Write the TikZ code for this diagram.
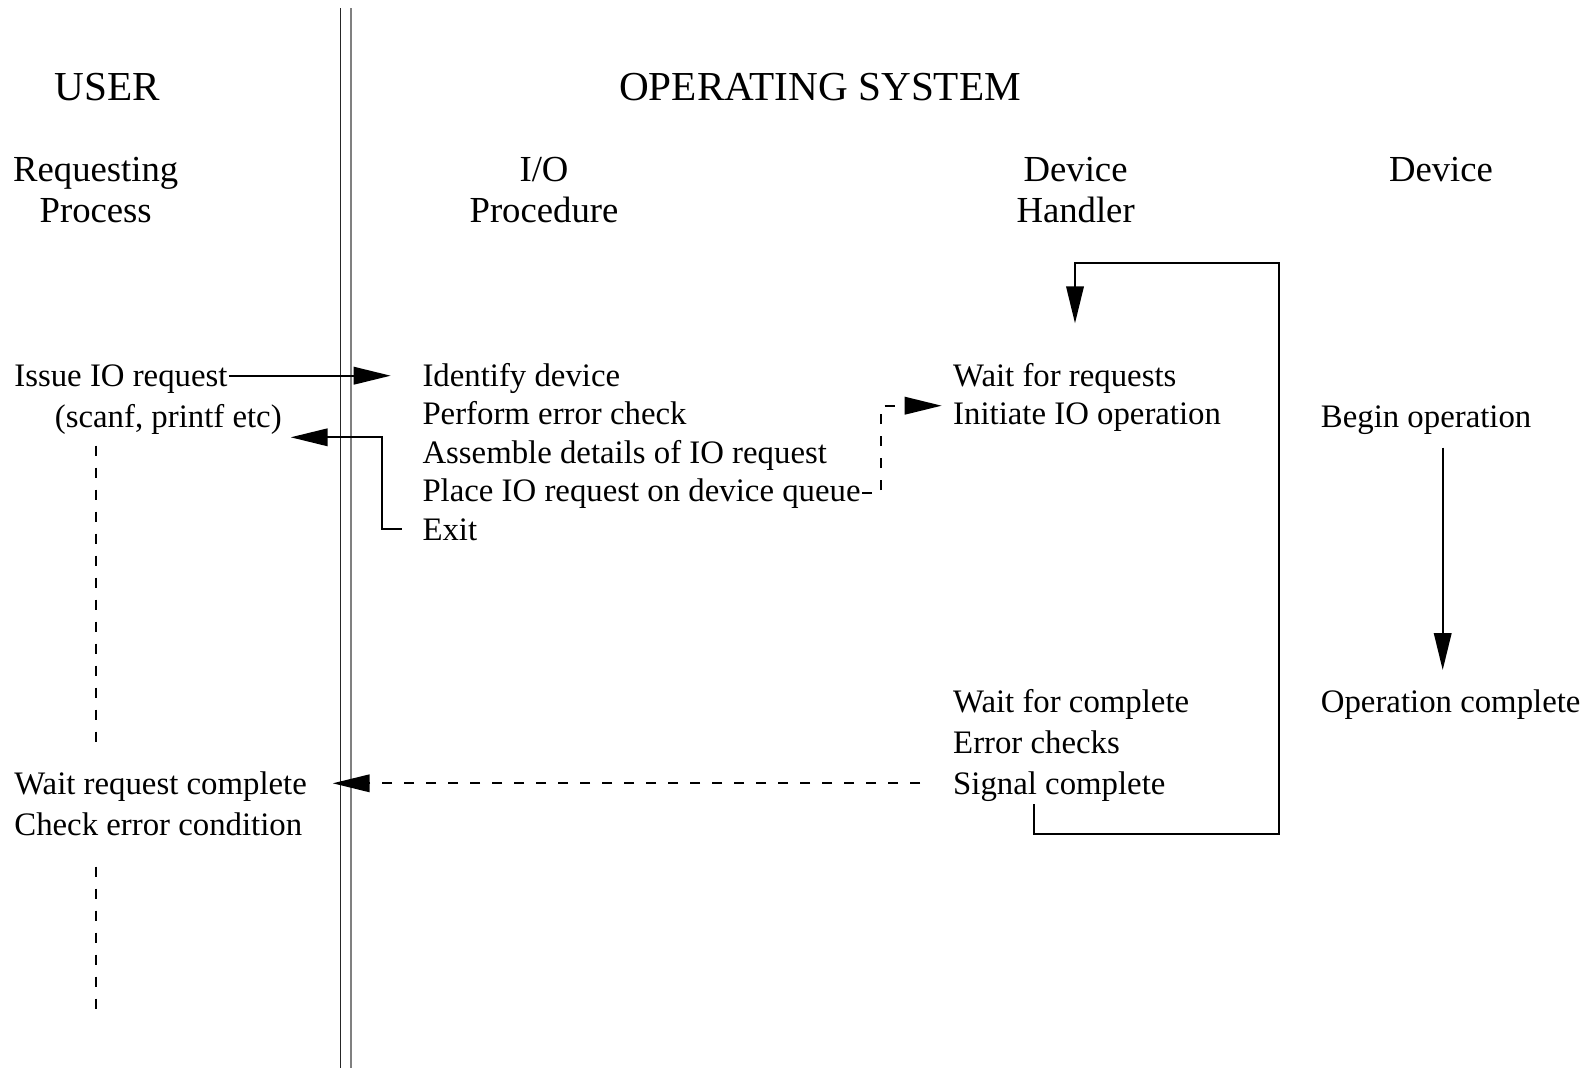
\documentclass[tikz,border=0pt]{standalone}
\usepackage{fontspec}
\setmainfont{Liberation Serif}
\usetikzlibrary{arrows.meta}
\begin{document}
\begin{tikzpicture}[x=1pt,y=-1pt,
  title/.style={anchor=base west, inner sep=0pt, font=\fontsize{41.2}{46}\selectfont},
  colhead/.style={anchor=base, inner sep=0pt, font=\fontsize{36.7}{41}\selectfont},
  body/.style={anchor=base west, inner sep=0pt, font=\fontsize{32.8}{38}\selectfont},
  tip/.style={-{Triangle[length=37pt,width=17.5pt]}},
  link/.style={line width=2pt},
  flow/.style={link, tip},
  dashlink/.style={line width=2pt, dash pattern=on 10pt off 12pt},
  dashflow/.style={dashlink, tip},
]
\useasboundingbox (0,0) rectangle (1588,1068);

% user / kernel boundary
\coordinate (bl) at (340.3,8);
\coordinate (br) at (350.7,8);
\draw[line width=1.6pt, black!85] (bl) -- (bl |- 0,1068);
\draw[line width=1.6pt, black!50] (br) -- (br |- 0,1068);

% section titles
\node[title] (user) at (54.7,100.5) {USER};
\node[title] (os) at (619,100.5) {OPERATING SYSTEM};

% column headings
\node[colhead] (rp1) at (95.7,181.5) {Requesting};
\node[colhead] (rp2) at (95.7,222.5) {Process};
\node[colhead] (io1) at (544,181.5) {I/O};
\node[colhead] (io2) at (544,222.5) {Procedure};
\node[colhead] (dh1) at (1075.6,181.5) {Device};
\node[colhead] (dh2) at (1075.6,222.5) {Handler};
\node[colhead] (dv1) at (1441,181.5) {Device};

% requesting process
\node[body] (issue) at (14.2,386) {Issue IO request};
\node[body] (scanf) at (54.7,427) {(scanf, printf etc)};
\node[body] (waitreq) at (14.2,794.5) {Wait request complete};
\node[body] (checkerr) at (14.2,835) {Check error condition};

% I/O procedure
\node[body] (ident) at (422.3,386) {Identify device};
\node[body] (perf) at (422.3,424.5) {Perform error check};
\node[body] (assem) at (422.3,463) {Assemble details of IO request};
\node[body] (place) at (422.3,501.5) {Place IO request on device queue};
\node[body] (exit) at (422.3,540) {Exit};

% device handler
\node[body] (waitfor) at (953,386) {Wait for requests};
\node[body] (init) at (953,424.5) {Initiate IO operation};
\node[body] (waitc) at (953,712.5) {Wait for complete};
\node[body] (errc) at (953,753) {Error checks};
\node[body] (signal) at (953,794.5) {Signal complete};

% device
\node[body] (begin) at (1320.7,427.5) {Begin operation};
\node[body] (opc) at (1320.7,712.5) {Operation complete};

% connector end points
\coordinate (reqin) at (390.7,375.7);
\coordinate (exitout) at (401.7,529);
\coordinate (retin) at (290.7,437.3);
\coordinate (qout) at (862,493);
\coordinate (initin) at (941.7,405.7);
\coordinate (sigout) at (1034.3,804.3);
\coordinate (loopin) at (1075,323.3);
\coordinate (waitin) at (332.7,783.3);
\coordinate (opstart) at (1442.7,447.7);
\coordinate (opdone) at (1442.7,670);
\coordinate (u1a) at (96,445.6);
\coordinate (u1b) at (96,742);
\coordinate (u2a) at (96,866.7);
\coordinate (u2b) at (96,1018);

% call into the I/O procedure and return
\draw[flow] ([xshift=1pt]issue.east |- reqin) -- (reqin);
\draw[flow] (exitout) -- ++(-20,0) |- (retin);

% request queued for the handler
\draw[dashflow] (qout) -- ++(19,0) |- (initin);

% handler loop
\draw[flow] (sigout) |- (1279.3,834) |- (1075,263.3) -- (loopin);

% completion signalled back to the process
\draw[dashflow] ([xshift=-33pt]signal.west |- waitin) -- (waitin);

% device operation
\draw[flow] (opstart) -- (opdone);

% process waiting
\draw[dashlink] (u1a) -- (u1b);
\draw[dashlink] (u2a) -- (u2b);
\end{tikzpicture}
\end{document}
